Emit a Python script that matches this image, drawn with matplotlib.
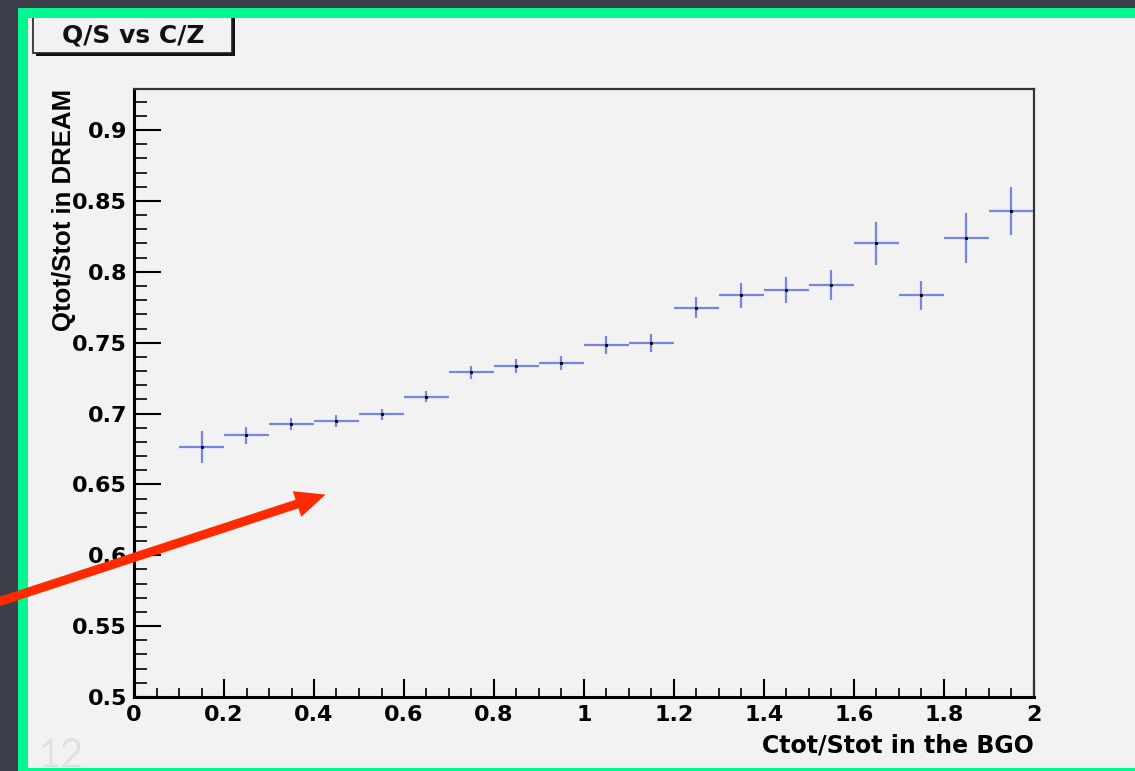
import numpy as np
import matplotlib.pyplot as plt
import matplotlib.patheffects as pe
from matplotlib.patches import Rectangle, FancyArrow
from matplotlib.ticker import MultipleLocator

plt.rcParams['font.family'] = ['DejaVu Sans']

# bin centres and measured ratio with errors
x_vals = [0.15, 0.25, 0.35, 0.45, 0.55, 0.65, 0.75, 0.85, 0.95, 1.05,
          1.15, 1.25, 1.35, 1.45, 1.55, 1.65, 1.75, 1.85, 1.95]
y_vals = [0.6766, 0.6846, 0.6926, 0.6947, 0.6996, 0.7119, 0.7291, 0.7337, 0.7356, 0.7483,
          0.7495, 0.7747, 0.7836, 0.7871, 0.7907, 0.8201, 0.7836, 0.8236, 0.8429]
y_err = [0.0113, 0.0060, 0.0042, 0.0045, 0.0038, 0.0039, 0.0046, 0.0049, 0.0050, 0.0061,
         0.0064, 0.0074, 0.0088, 0.0090, 0.0108, 0.0154, 0.0102, 0.0176, 0.0172]
x_err = 0.05

W, H = 1135, 771
fig = plt.figure(figsize=(W / 100, H / 100), dpi=100)
fig.patch.set_facecolor('#3c3f49')

# background layer in pixel coordinates
bg = fig.add_axes([0, 0, 1, 1], zorder=0)
bg.set_xlim(0, W)
bg.set_ylim(H, 0)
bg.axis('off')
bg.add_patch(Rectangle((18, 8), W, H, facecolor='#00f891', edgecolor='none'))
bg.add_patch(Rectangle((28, 18), W, 750, facecolor='#f2f2f2', edgecolor='none'))
# title box with shadow
bg.add_patch(Rectangle((36, 16), 199, 40, facecolor='#111111', edgecolor='none'))
bg.add_patch(Rectangle((33, 13), 199, 40, facecolor='#f2f2f2', edgecolor='#222222', lw=1.2))
bg.add_patch(Rectangle((18, 8), W, 10, facecolor='#00f891', edgecolor='none'))
bg.text(133, 36, 'Q/S vs C/Z', fontsize=18, fontweight='bold', ha='center', va='center',
        color='#111111')
bg.text(39, 739, '12', fontsize=27, color='white', ha='left', va='top',
        family='Lato', fontweight='light',
        path_effects=[pe.withStroke(linewidth=1.5, foreground='#d8d8d8')])

ax = fig.add_axes([134 / W, 1 - 697 / H, 900 / W, 608 / H], zorder=1)
ax.set_facecolor('#f2f2f2')
ax.errorbar(x_vals, y_vals, xerr=x_err, yerr=y_err, fmt='none', ecolor='#6070e8',
            elinewidth=1.6, capsize=0, alpha=0.85)
ax.plot(x_vals, y_vals, 's', color='black', markersize=1.2)

ax.set_xlim(0, 2)
ax.set_ylim(0.5, 0.929)
ax.xaxis.set_minor_locator(MultipleLocator(0.05))
ax.yaxis.set_minor_locator(MultipleLocator(0.01))
ax.set_xticks(np.arange(0, 2.01, 0.2))
ax.set_xticklabels(['0', '0.2', '0.4', '0.6', '0.8', '1', '1.2', '1.4', '1.6', '1.8', '2'])
ax.set_yticks(np.arange(0.5, 0.91, 0.05))
ax.set_yticklabels(['0.5', '0.55', '0.6', '0.65', '0.7', '0.75', '0.8', '0.85', '0.9'])
ax.tick_params(axis='x', which='major', direction='in', length=13, width=1.5, pad=6,
               labelsize=16)
ax.tick_params(axis='x', which='minor', direction='in', length=6.5, width=1.2)
ax.tick_params(axis='y', which='major', direction='in', length=19.5, width=1.5, pad=5,
               labelsize=16)
ax.tick_params(axis='y', which='minor', direction='in', length=9.5, width=1.2)
for lab in ax.get_xticklabels() + ax.get_yticklabels():
    lab.set_fontweight('bold')
for s in ['left', 'bottom']:
    ax.spines[s].set_linewidth(2.2)
for s in ['top', 'right']:
    ax.spines[s].set_linewidth(1.6)
    ax.spines[s].set_color('#333333')

ax.set_xlabel('Ctot/Stot in the BGO', fontsize=17, fontweight='bold', ha='right')
ax.xaxis.set_label_coords(1.0, -0.06)
ax.set_ylabel('Qtot/Stot in DREAM', fontsize=18.5, fontweight='bold', ha='right',
              family='Liberation Sans')
ax.yaxis.set_label_coords(-0.064, 1.0)

# red arrow overlay
ov = fig.add_axes([0, 0, 1, 1], zorder=2)
ov.set_xlim(0, W)
ov.set_ylim(H, 0)
ov.axis('off')
ov.add_patch(FancyArrow(-5, 603, 302, -99, width=9, head_width=27,
                        head_length=30, length_includes_head=False,
                        color='#ff2a00', ec='none'))

fig.savefig('out.png', dpi=100, facecolor=fig.get_facecolor())
